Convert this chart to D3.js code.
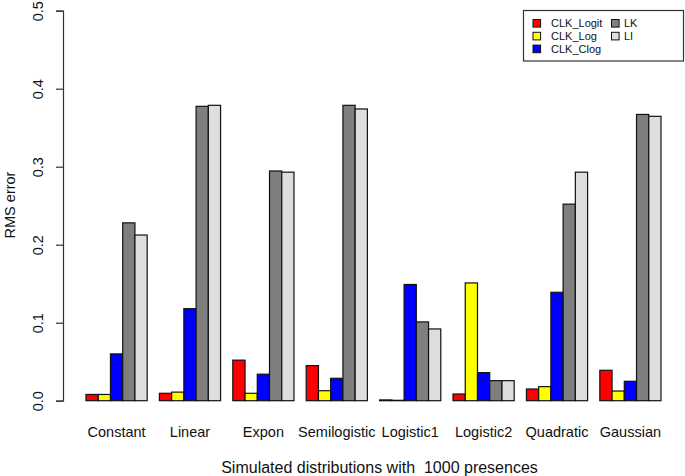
<!DOCTYPE html>
<html><head><meta charset="utf-8">
<script src="https://cdn.jsdelivr.net/npm/d3@7"></script>
<style>body{margin:0;background:#fff}svg{display:block}text{font-family:"Liberation Sans",Arial,Helvetica,sans-serif;white-space:pre}</style>
</head><body>
<script>
const categories = ["Constant","Linear","Expon","Semilogistic","Logistic1","Logistic2","Quadratic","Gaussian"];
const seriesNames = ["CLK_Logit","CLK_Log","CLK_Clog","LK","LI"];
const seriesColors = ["#ff0000","#ffff00","#0000ff","#7f7f7f","#dedede"];
const CLK_Logit = [0.008,0.0095,0.052,0.045,0.001,0.0086,0.015,0.039];
const CLK_Log   = [0.008,0.011,0.0095,0.0128,0.0005,0.151,0.018,0.0124];
const CLK_Clog  = [0.060,0.118,0.034,0.0287,0.149,0.036,0.139,0.0249];
const LK        = [0.228,0.3774,0.2945,0.3787,0.101,0.0257,0.252,0.367];
const LI        = [0.2124,0.3787,0.293,0.374,0.092,0.0257,0.293,0.3646];
const yTicks = [0,0.1,0.2,0.3,0.4,0.5];
const xTitle = "Simulated distributions with  1000 presences";
const yTitle = "RMS error";

const series = [CLK_Logit, CLK_Log, CLK_Clog, LK, LI];
const W = 685, H = 476;
const svg = d3.select("body").append("svg").attr("width", W).attr("height", H);

// R barplot layout: each group = 1 space + 5 bars
const x = d3.scaleLinear().domain([-0.88, 49.88]).range([63, 684]);
const y = d3.scaleLinear().domain([0, 0.5]).range([400.7, 10.7]);

const bars = [];
categories.forEach((c, g) => series.forEach((s, i) => bars.push({g, i, v: s[g]})));
svg.append("g").selectAll("rect").data(bars).join("rect")
  .attr("x", d => x(1 + d.g*6 + d.i))
  .attr("width", d => x(2 + d.g*6 + d.i) - x(1 + d.g*6 + d.i))
  .attr("y", d => y(d.v))
  .attr("height", d => y(0) - y(d.v))
  .attr("fill", d => seriesColors[d.i])
  .attr("stroke", "#111").attr("stroke-width", 1.2);

// category labels
svg.append("g").selectAll("text").data(categories).join("text")
  .attr("x", (d, g) => x(1 + g*6 + 2.5))
  .attr("y", 437)
  .attr("text-anchor", "middle").attr("font-size", 14.5).attr("fill", "#111")
  .text(d => d);

// y axis
const ax = svg.append("g").attr("transform", `translate(${x(-0.88)},0)`)
  .call(d3.axisLeft(y).tickValues(yTicks).tickFormat(d3.format(".1f")).tickSize(7).tickPadding(0));
ax.select(".domain").attr("stroke", "#333").attr("stroke-width", 1.2);
ax.selectAll(".tick line").attr("stroke", "#333").attr("stroke-width", 1.2);
ax.selectAll(".tick text")
  .attr("x", 0).attr("y", 0).attr("dy", null)
  .attr("transform", "translate(-20,0) rotate(-90)")
  .attr("text-anchor", "middle").attr("font-size", 14.5).attr("fill", "#111")
  .attr("font-family", '"Liberation Sans",Arial,sans-serif');

// axis titles
svg.append("text").attr("transform", "translate(15,205) rotate(-90)")
  .attr("text-anchor", "middle").attr("font-size", 14.5).attr("fill", "#111").text(yTitle);
svg.append("text").attr("x", 379.5).attr("y", 473)
  .attr("text-anchor", "middle").attr("font-size", 16).attr("fill", "#111").text(xTitle);

// legend
const lg = svg.append("g");
lg.append("rect").attr("x", 523.5).attr("y", 10.5).attr("width", 160).attr("height", 50.5)
  .attr("fill", "#fff").attr("stroke", "#333").attr("stroke-width", 1.2);
const lx = [533, 611.5], tx = [551, 624], ly = [23.3, 36.1, 48.9];
seriesNames.forEach((n, i) => {
  const col = i < 3 ? 0 : 1, row = i < 3 ? i : i - 3;
  lg.append("rect").attr("x", lx[col]).attr("y", ly[row] - 3.8).attr("width", 7.6).attr("height", 7.6)
    .attr("fill", seriesColors[i]).attr("stroke", "#111").attr("stroke-width", 1);
  lg.append("text").attr("x", tx[col]).attr("y", ly[row] + 4).attr("font-size", 11).attr("fill", "#111").text(n);
});
</script>
</body></html>
